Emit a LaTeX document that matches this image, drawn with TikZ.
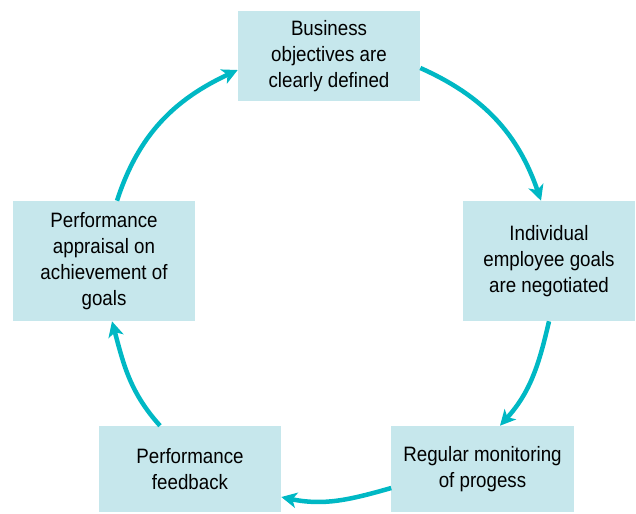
\documentclass[tikz,border=0pt]{standalone}
\usepackage{fontspec}
\setmainfont{Liberation Sans}[FakeStretch=0.9]
\usepackage{xcolor}
\usetikzlibrary{arrows.meta}
\definecolor{boxblue}{HTML}{C6E7EC}
\definecolor{cycleteal}{HTML}{00B8C4}

\begin{document}
\begin{tikzpicture}[x=0.025cm, y=-0.025cm,
    stage/.style={rectangle, fill=boxblue, minimum width=4.55cm, minimum height=2.25cm, align=center, inner sep=0pt, font=\fontsize{14.8}{18.5}\selectfont},
    cycle/.style={draw=cycleteal, line width=3.2pt, -{Stealth[length=11pt, width=11pt, inset=3pt]}}]
    \useasboundingbox (0,0) rectangle (636,513);
    \node[stage] (objectives) at (329,56) {Business\\objectives are\\clearly defined};
    \node[stage, minimum width=4.3cm, minimum height=3cm] (goals) at (549,261) {Individual\\employee goals\\are negotiated};
    \node[stage, minimum height=2.15cm] (monitoring) at (482.5,469) {Regular monitoring\\of progess};
    \node[stage, minimum height=2.15cm] (feedback) at (190,469) {Performance\\feedback};
    \node[stage, minimum height=3cm] (appraisal) at (104,261) {Performance\\appraisal on\\achievement of\\goals};

    \draw[cycle] ([shift={(0,12)}]objectives.east) to[out=-24, in=109] ([shift={(-8,0)}]goals.north);
    \draw[cycle] (goals.south) to[out=-103, in=48] ([shift={(17.5,0)}]monitoring.north);
    \draw[cycle] ([shift={(0,19)}]monitoring.west) to[out=196, in=-12] ([shift={(0,28)}]feedback.east);
    \draw[cycle] ([shift={(-30,0)}]feedback.north) to[out=132, in=-75] ([shift={(8,0)}]appraisal.south);
    \draw[cycle] ([shift={(13,0)}]appraisal.north) to[out=72, in=-155] ([shift={(0,14)}]objectives.west);
\end{tikzpicture}
\end{document}
